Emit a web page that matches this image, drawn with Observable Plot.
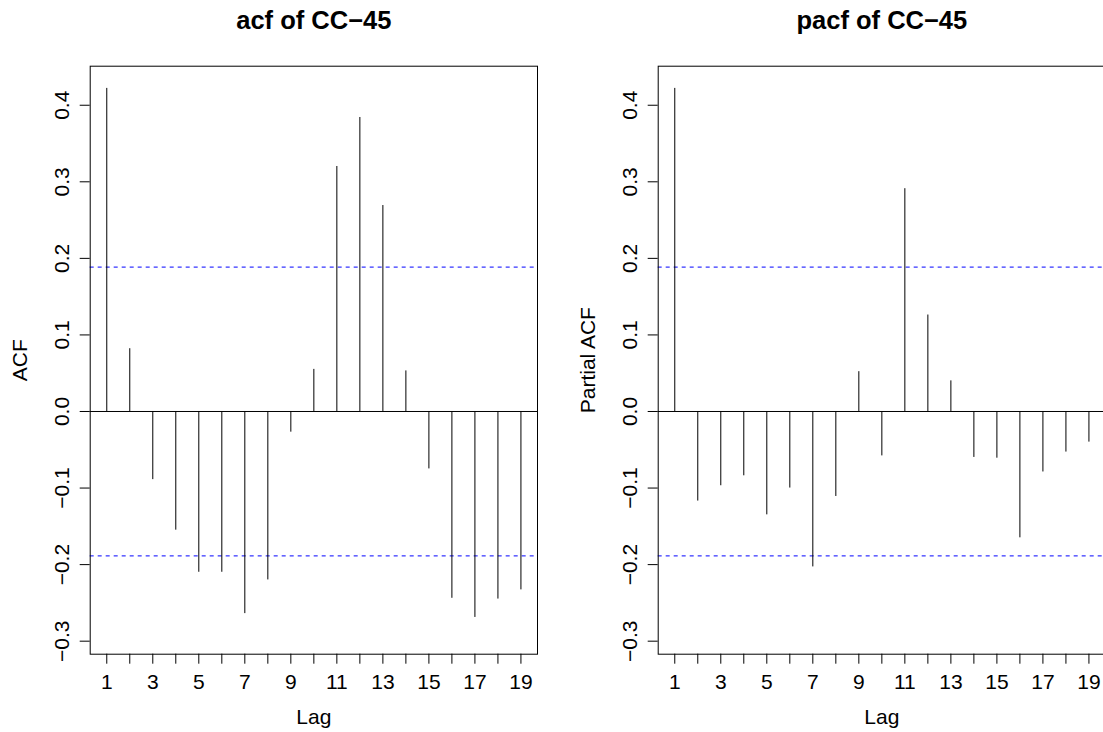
<!DOCTYPE html>
<html><head><meta charset="utf-8">
<script src="https://cdn.jsdelivr.net/npm/d3@7"></script>
<script src="https://cdn.jsdelivr.net/npm/@observablehq/plot@0.6"></script>
<style>
html,body{margin:0;padding:0;background:#fff;overflow:hidden;width:1103px;height:732px;}
#wrap{position:relative;width:1103px;height:732px;overflow:hidden;}
.panel{position:absolute;top:0;}
</style></head><body><div id="wrap"></div>
<script>
// ---- data ----
const lags = [1,2,3,4,5,6,7,8,9,10,11,12,13,14,15,16,17,18,19];
const acfValues = [0.422,0.082,-0.089,-0.155,-0.210,-0.210,-0.264,-0.220,-0.027,0.055,0.320,0.384,0.269,0.053,-0.075,-0.244,-0.269,-0.245,-0.233];
const pacfValues = [0.422,-0.117,-0.097,-0.084,-0.135,-0.100,-0.203,-0.111,0.052,-0.058,0.291,0.126,0.040,-0.060,-0.061,-0.165,-0.079,-0.053,-0.040];
const ciBound = 0.1886;
const yTicks = [-0.3,-0.2,-0.1,0.0,0.1,0.2,0.3,0.4];
const xTickLabels = [1,3,5,7,9,11,13,15,17,19];
const titles = ["acf of CC\u221245","pacf of CC\u221245"];
const yLabels = ["ACF","Partial ACF"];
const xLabel = "Lag";

// ---- layout ----
const W = 567.5, H = 732;
const mL = 89.7, mR = 30.5, mT = 65.7, mB = 78.3;
const fmt = d3.format(".1f");

function panel(values, title, ylabel) {
  const data = lags.map((l, i) => ({lag: l, value: values[i]}));
  return Plot.plot({
    width: W, height: H,
    marginLeft: mL, marginRight: mR, marginTop: mT, marginBottom: mB,
    style: {fontFamily: "'Liberation Sans', Arial, Helvetica, sans-serif", fontSize: "21px", background: "white", color: "black"},
    x: {type: "linear", domain: [0.28, 19.72]},
    y: {domain: [-0.317, 0.451]},
    marks: [
      Plot.ruleY([ciBound, -ciBound], {stroke: "blue", strokeWidth: 1, strokeDasharray: "4,4"}),
      Plot.ruleY([0], {stroke: "black", strokeWidth: 1}),
      Plot.ruleX(data, {x: "lag", y1: 0, y2: "value", stroke: "black", strokeWidth: 1}),
      Plot.frame({stroke: "black", strokeWidth: 1}),
      Plot.axisX({ticks: lags, tickSize: 10, tickPadding: 10,
        tickFormat: d => xTickLabels.includes(d) ? String(d) : "",
        label: xLabel, labelAnchor: "center", labelArrow: "none", labelOffset: 70}),
      Plot.axisY({ticks: yTicks, tickSize: 10, tickPadding: 11, tickRotate: -90,
        tickFormat: d => fmt(d),
        label: ylabel, labelAnchor: "center", labelArrow: "none", labelOffset: 78}),
      Plot.text([title], {frameAnchor: "top", lineAnchor: "bottom", dy: -37,
        fontSize: 25.5, fontWeight: "bold"})
    ]
  });
}

const wrap = document.getElementById("wrap");
const p1 = panel(acfValues, titles[0], yLabels[0]);
p1.classList.add("panel"); p1.style.left = "0px";
wrap.appendChild(p1);
const p2 = panel(pacfValues, titles[1], yLabels[1]);
p2.classList.add("panel"); p2.style.left = W + "px";
wrap.appendChild(p2);
</script>
</body></html>
